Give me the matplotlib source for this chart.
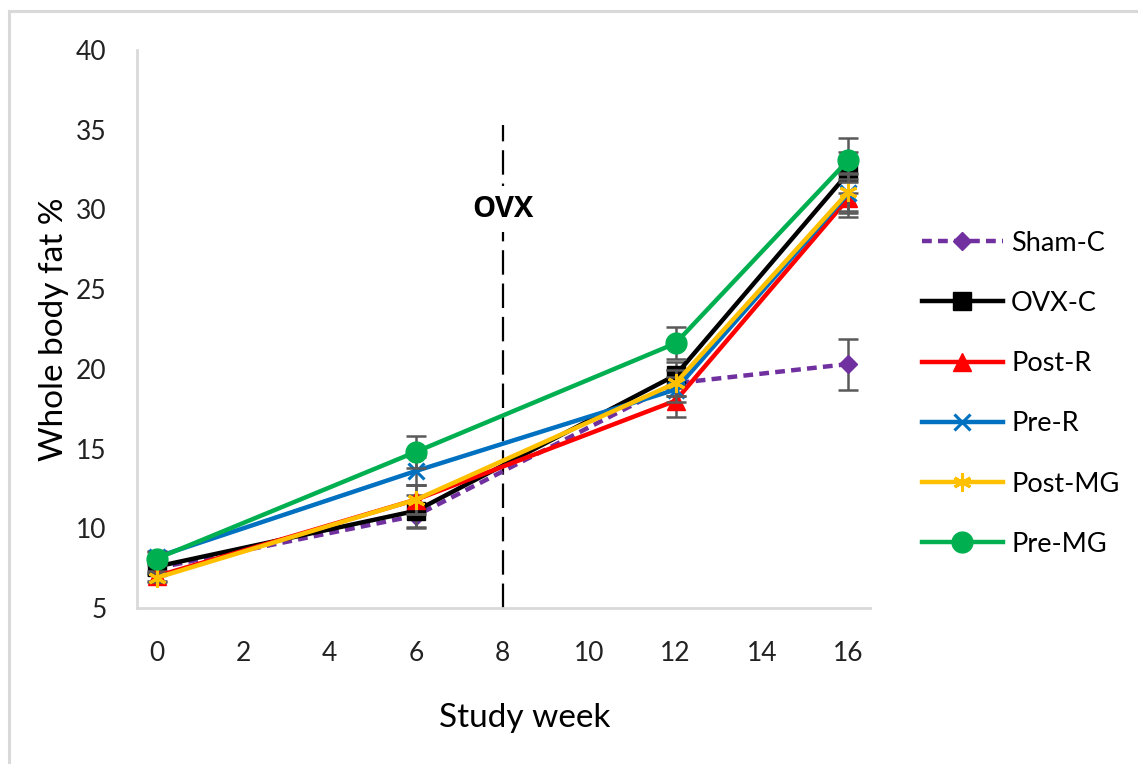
import numpy as np
import matplotlib.pyplot as plt
from matplotlib.patches import Rectangle

plt.rcParams['font.family'] = ['Lato', 'DejaVu Sans']

weeks = [0, 6, 12, 16]

groups = ['Sham-C', 'OVX-C', 'Post-R', 'Pre-R', 'Post-MG', 'Pre-MG']
sham_c = [7.5, 10.8, 19.1, 20.3]
ovx_c = [7.6, 11.1, 19.6, 32.3]
post_r = [7.0, 11.8, 18.0, 30.7]
pre_r = [8.2, 13.6, 18.7, 31.0]
post_mg = [6.9, 11.8, 19.1, 31.1]
pre_mg = [8.1, 14.8, 21.6, 33.1]

sham_c_err = [0.4, 0.8, 0.8, 1.6]
ovx_c_err = [0.4, 1.0, 0.8, 1.3]
post_r_err = [0.3, 0.9, 1.0, 1.2]
pre_r_err = [0.4, 0.9, 0.8, 1.2]
post_mg_err = [0.3, 0.9, 0.8, 1.2]
pre_mg_err = [0.4, 1.0, 1.0, 1.4]

ovx_week = 8

series = [
    (sham_c, sham_c_err, '#7030A0', 'D', (0, (2.2, 1.4)), 9.5),
    (ovx_c, ovx_c_err, '#000000', 's', '-', 13),
    (post_r, post_r_err, '#FF0000', '^', '-', 13),
    (pre_r, pre_r_err, '#0070C0', 'x', '-', 12),
    (post_mg, post_mg_err, '#FFC000', (6, 2, 0), '-', 13),
    (pre_mg, pre_mg_err, '#00B050', 'o', '-', 15),
]

fig = plt.figure(figsize=(11.38, 7.64), dpi=100)
ax = fig.add_axes([0.1204, 0.2042, 0.6441, 0.7304])

# outer chart frame
fig.patches.append(Rectangle((0.008, -0.01), 1.0, 0.996, transform=fig.transFigure,
                             fill=False, edgecolor='#D9D9D9', linewidth=2.2))

for i, (vals, err, color, marker, ls, ms) in enumerate(series):
    ax.errorbar(weeks, vals, yerr=err, fmt='none', ecolor='#595959',
                elinewidth=1.8, capsize=7, capthick=1.8, zorder=2 + i)
    mew = 2.2 if marker in ('x', (6, 2, 0)) else 1
    ax.plot(weeks, vals, color=color, linestyle=ls, linewidth=3.2,
            marker=marker, markersize=ms, markeredgewidth=mew,
            markeredgecolor=color, label=groups[i], zorder=2.5 + i)

ax.plot([ovx_week, ovx_week], [5, 35.3], color='black', linewidth=1.6,
        linestyle=(0, (11, 4)), zorder=1)
ax.text(ovx_week, 30.0, 'OVX', ha='center', va='center', fontsize=21,
        fontweight='bold', family=['Open Sans', 'DejaVu Sans'],
        bbox=dict(facecolor='white', edgecolor='none', pad=6), zorder=1.5)

ax.set_xlim(-0.46, 16.5)
ax.set_ylim(5, 40)
ax.set_xticks(range(0, 17, 2))
ax.set_yticks(range(5, 41, 5))
ax.tick_params(length=0, labelsize=19, colors='#222222')
ax.tick_params(axis='x', pad=24)
ax.tick_params(axis='y', pad=22)
for side in ('top', 'right'):
    ax.spines[side].set_visible(False)
for side in ('left', 'bottom'):
    ax.spines[side].set_color('#D9D9D9')
    ax.spines[side].set_linewidth(2)

ax.set_xlabel('Study week', fontsize=24)
ax.xaxis.set_label_coords(0.529, -0.17)
ax.set_ylabel('Whole body fat %', fontsize=24, labelpad=5)

ax.legend(loc='upper left', bbox_to_anchor=(0.81, 0.698),
          bbox_transform=fig.transFigure, frameon=False, fontsize=19.5,
          handlelength=3.0, handletextpad=0.3, labelspacing=1.3,
          borderpad=0, borderaxespad=0)

fig.savefig('out.png', dpi=100)
